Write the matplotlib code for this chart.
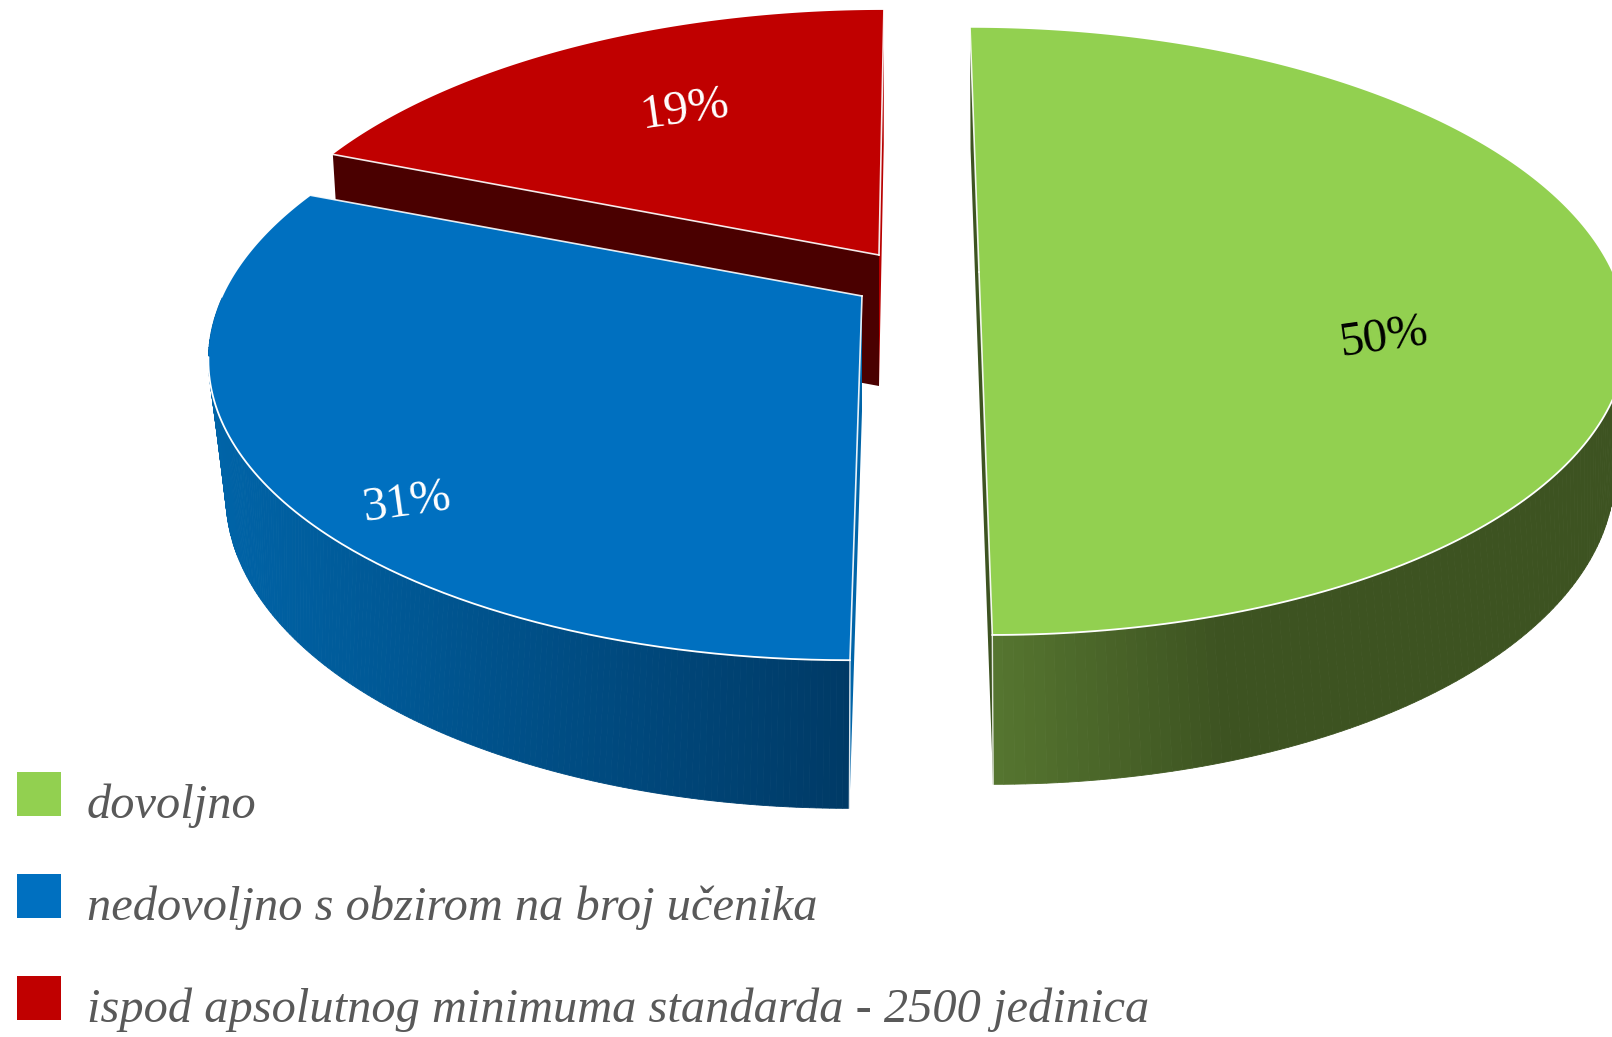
import matplotlib
matplotlib.use('Agg')
import matplotlib.pyplot as plt
import numpy as np

categories = ['dovoljno', 'nedovoljno s obzirom na broj učenika',
              'ispod apsolutnog minimuma standarda - 2500 jedinica']
values = [50, 31, 19]
value_labels = ['50%', '31%', '19%']

top_colors = ['#92D050', '#0070C0', '#C00000']
label_colors = ['black', 'white', 'white']
legend_gray = '#595959'

# exploded slices, in pixels of the picture
apex_x = [979, 862, 879]
apex_y = [272, 296, 255]
radius_x = [633, 639, 632]
radius_y = [292, 293, 293]
shear = [-0.0367, 0.033, 0.02]
label_x = [1383, 407, 685]
label_y = [338, 503, 110]

# the lower circle of each slice is seen a bit flatter than the top one
persp = 0.1955
bottom_persp = [0.25, 0.25, 0.1955]
bottom_ry = [298, 298, 289]
bottom_rx_scale = [0.968, 0.96, 0.985]
bottom_drop = [115, 115, 131]
start_angle = 90.0


def project(i, t, bottom=False):
    u = np.cos(np.radians(t))
    v = np.sin(np.radians(t))
    if bottom:
        w = 1 + bottom_persp[i] * v
        up = bottom_ry[i] * v / w
        x = apex_x[i] + bottom_rx_scale[i] * (radius_x[i] * u / w + shear[i] * up)
        return x, apex_y[i] + bottom_drop[i] - up
    w = 1 + persp * v
    up = radius_y[i] * v / w
    return apex_x[i] + radius_x[i] * u / w + shear[i] * up, apex_y[i] - up


def side_color(i, x):
    if i == 0:
        f = np.clip((x - 991) / 230.0, 0, 1)
        c0, c1 = np.array([86, 118, 48]), np.array([61, 83, 33])
    else:
        f = np.clip((x - 210) / 640.0, 0, 1)
        c0, c1 = np.array([0, 100, 168]), np.array([0, 58, 102])
    return tuple((c0 + (c1 - c0) * f) / 255.0)


fig = plt.figure(figsize=(16.12, 10.37), dpi=100)
ax = fig.add_axes([0, 0, 1, 1])
ax.set_xlim(0, 1612)
ax.set_ylim(1037, 0)
ax.axis('off')

# colour of the first and the second cut face of each slice
cut_colors = [('#3D5321', '#3D5321'), ('#0064A8', None), ('#4A0000', '#B80000')]
angles = [start_angle]
for val in values:
    angles.append(angles[-1] - 360.0 * val / sum(values))

# back to front: red, blue, green
for i in [2, 1, 0]:
    t0, t1 = angles[i], angles[i + 1]
    ts = np.linspace(t0, t1, 240)
    x_top, y_top = project(i, ts)
    x_bot, y_bot = project(i, ts, bottom=True)
    base_z = i * -10

    # rim as thin strips so the shade can follow x, only the part facing us
    for j in range(len(ts) - 1):
        if np.sin(np.radians(ts[j])) > 0 or np.sin(np.radians(ts[j + 1])) > 0:
            continue
        xs = [x_top[j], x_top[j + 1], x_bot[j + 1], x_bot[j]]
        ys = [y_top[j], y_top[j + 1], y_bot[j + 1], y_bot[j]]
        c = side_color(i, np.mean(xs))
        ax.fill(xs, ys, facecolor=c, edgecolor=c, lw=0.6, zorder=base_z + 1)

    # the cut faces
    if i == 1:
        faces = [(t0, cut_colors[i][0])]
    else:
        faces = [(t0, cut_colors[i][0]), (t1, cut_colors[i][1])]
    for t, col in faces:
        xa, ya = project(i, t)
        xb, yb = project(i, t, bottom=True)
        ax.fill([xa, apex_x[i], apex_x[i], xb],
                [ya, apex_y[i], apex_y[i] + bottom_drop[i], yb],
                color=col, lw=0, zorder=base_z + 2)

    # top
    ax.fill(np.r_[apex_x[i], x_top], np.r_[apex_y[i], y_top],
            color=top_colors[i], lw=0, zorder=base_z + 3)

    # white edges
    front = np.sin(np.radians(ts)) < -persp
    ax.plot(x_top[front], y_top[front], color='white', lw=1.3,
            solid_capstyle='round', zorder=base_z + 4)
    for t in [t0, t1]:
        xa, ya = project(i, t)
        ax.plot([apex_x[i], xa], [apex_y[i], ya], color='white', lw=1.2,
                alpha=0.9, zorder=base_z + 4)
    if i < 2:
        xc, yc = project(i, -90)
        xa, ya = project(i, -90, bottom=True)
        ax.plot([xc, xa], [yc, ya], color='white', lw=1.0, alpha=0.85, zorder=base_z + 4)

    ax.text(label_x[i], label_y[i], value_labels[i], color=label_colors[i],
            family='Liberation Serif', fontsize=35, rotation=8,
            ha='center', va='center', rotation_mode='anchor', zorder=5)

# legend
square_x = 17
square_size = 44
square_y = [772, 874, 976]
text_x = 87
text_y = [818, 920, 1022]
for i in range(3):
    ax.fill([square_x, square_x + square_size, square_x + square_size, square_x],
            [square_y[i], square_y[i], square_y[i] + square_size, square_y[i] + square_size],
            color=top_colors[i], lw=0, zorder=6)
    ax.text(text_x, text_y[i], categories[i], color=legend_gray,
            family='Liberation Serif', style='italic', fontsize=34.8,
            ha='left', va='baseline', zorder=6)

fig.savefig('out.png', dpi=100)
